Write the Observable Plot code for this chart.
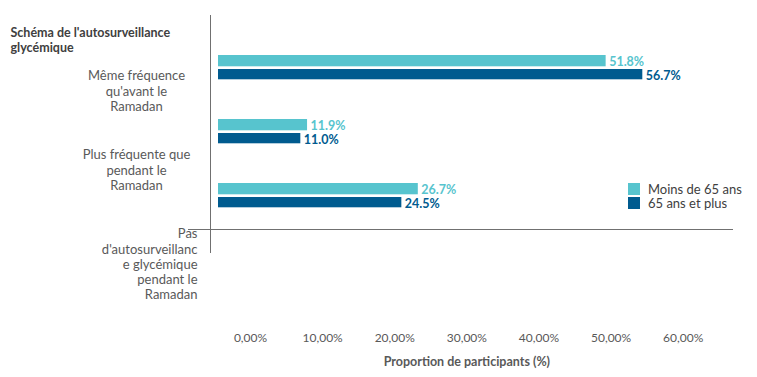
<!DOCTYPE html>
<html><head><meta charset="utf-8">
<script src="https://cdn.jsdelivr.net/npm/d3@7"></script>
<script src="https://cdn.jsdelivr.net/npm/@observablehq/plot@0.6"></script>
<style>
body{margin:0;background:#fff;}
#chart{position:relative;width:757px;height:377px;font-family:Lato,sans-serif;overflow:hidden;}
#chart > svg{position:absolute;left:0;top:0;}
#legend{position:absolute;left:628px;top:182px;}
#legend > div{font-family:Lato,sans-serif;font-size:13px;color:#404040;line-height:14px;margin:0;}
#legend > div > div{padding-bottom:0;}
#legend > div > div > svg{margin-right:8px;}
</style></head><body><div id="chart"></div>
<script>
// ---- data ----
const categories = [
  "Même fréquence qu'avant le Ramadan",
  "Plus fréquente que pendant le Ramadan",
  "Pas d'autosurveillance glycémique pendant le Ramadan"
];
const categoryLines = [
  ["Même fréquence", "qu'avant le", "Ramadan"],
  ["Plus fréquente que", "pendant le", "Ramadan"],
  ["Pas", "d'autosurveillanc", "e glycémique", "pendant le", "Ramadan"]
];
const series = ["Moins de 65 ans", "65 ans et plus"];
const valuesUnder65 = [51.8, 11.9, 26.7];
const values65Plus = [56.7, 11.0, 24.5];
const xTicks = [0, 10, 20, 30, 40, 50, 60];
const titleText = "Schéma de l'autosurveillance\nglycémique";
const xLabel = "Proportion de participants (%)";
const colors = ["#57C4CE", "#005B8F"];

const rows = categories.flatMap((c, i) => [
  {cat: c, series: series[0], value: valuesUnder65[i]},
  {cat: c, series: series[1], value: values65Plus[i]}
]);
const fmtVal = d => d3.format(".1f")(d) + "%";
const fmtTick = d => d3.format(".2f")(d).replace(".", ",") + "%";
const FONT = "Lato, sans-serif";
const GRAY = "#595959";
const LINE = "#707070";

const chart = document.getElementById("chart");

// main plot: bars, value labels, axis lines
const main = Plot.plot({
  width: 757, height: 377,
  marginLeft: 210, marginRight: 25, marginTop: 15, marginBottom: 148,
  x: {domain: [0, 60], range: [218, 667], axis: null},
  y: {type: "band", domain: categories, range: [34, 228], padding: 0, axis: null},
  color: {domain: series, range: colors},
  style: {fontFamily: FONT, background: "transparent"},
  marks: [
    Plot.barX(rows.filter(d => d.series === series[0]), {x: "value", y: "cat", fill: "series", insetTop: 20, insetBottom: 32.7}),
    Plot.barX(rows.filter(d => d.series === series[1]), {x: "value", y: "cat", fill: "series", insetTop: 34, insetBottom: 19.7}),
    Plot.text(rows.filter(d => d.series === series[0]), {x: "value", y: "cat", text: d => fmtVal(d.value), fill: "series", textAnchor: "start", dx: 3, dy: -6, fontSize: 12.5, fontWeight: "bold"}),
    Plot.text(rows.filter(d => d.series === series[1]), {x: "value", y: "cat", text: d => fmtVal(d.value), fill: "series", textAnchor: "start", dx: 3, dy: 8, fontSize: 12.5, fontWeight: "bold"}),
    Plot.frame({anchor: "left", stroke: LINE, insetBottom: -23}),
    Plot.frame({anchor: "bottom", stroke: LINE, insetLeft: -22})
  ]
});
chart.appendChild(main);

// category labels and title
const labels = Plot.plot({
  width: 757, height: 377, margin: 0,
  y: {type: "point", domain: categories, range: [68, 227], padding: 0, axis: null},
  style: {fontFamily: FONT, background: "transparent"},
  marks: [
    Plot.text([titleText], {frameAnchor: "top-left", dx: 10, dy: 26, lineAnchor: "top", lineHeight: 1.2, fontSize: 12.5, fontWeight: "bold", fill: "#404040"}),
    Plot.text(categories.slice(0, 2), {y: d => d, text: d => categoryLines[categories.indexOf(d)].join("\n"), frameAnchor: "left", dx: 136, textAnchor: "middle", lineAnchor: "top", lineHeight: 1.17, fontSize: 13, fill: GRAY}),
    Plot.text(categories.slice(2), {y: d => d, text: d => categoryLines[categories.indexOf(d)].join("\n"), frameAnchor: "left", dx: 197, textAnchor: "end", lineAnchor: "top", lineHeight: 1.17, fontSize: 13, fill: GRAY})
  ]
});
chart.appendChild(labels);

// x axis tick labels and title
const axis = Plot.plot({
  width: 757, height: 377,
  marginLeft: 250, marginRight: 74.3, marginTop: 0, marginBottom: 47,
  x: {domain: [0, 60]},
  style: {fontFamily: FONT, background: "transparent"},
  marks: [
    Plot.axisX(xTicks, {tickSize: 0, tickPadding: 3, tickFormat: fmtTick, fontSize: 12, fill: GRAY, label: null}),
    Plot.text([xLabel], {frameAnchor: "bottom", dy: 31, lineAnchor: "middle", fontSize: 12.5, fontWeight: "bold", fill: GRAY})
  ]
});
chart.appendChild(axis);

// legend
const legWrap = document.createElement("div");
legWrap.id = "legend";
legWrap.appendChild(Plot.legend({color: {domain: series, range: colors}, legend: "swatches", columns: 1, swatchSize: 12, className: "lg"}));
chart.appendChild(legWrap);
</script></body></html>
